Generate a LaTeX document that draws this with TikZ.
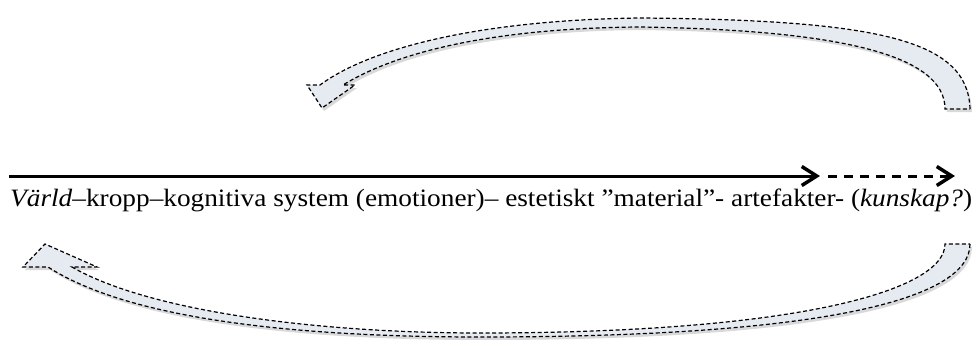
\documentclass[tikz,border=0pt]{standalone}
\usepackage{fontspec}
\setmainfont{Liberation Serif}
\usetikzlibrary{arrows.meta, shadows}
\definecolor{bandfill}{HTML}{E6EAF1}
\tikzset{
  band/.style={fill=bandfill, draw=black, line width=1.2pt,
    dash pattern=on 4pt off 2.5pt,
    drop shadow={shadow xshift=2pt, shadow yshift=-3pt, opacity=0.15, fill=black}},
  flow/.style={line width=3pt, -{Straight Barb[length=15pt,width=19pt,line width=3.5pt]}},
}
\begin{document}
\begin{tikzpicture}[x=1pt, y=-1pt]
      \useasboundingbox (0,0) rectangle (978,340);
      % 1. the points of the main arrow
      \coordinate (start) at (9,176);
      \coordinate (mid) at (820,176);
      \coordinate (gap) at (828,176);
      \coordinate (end) at (955,176);

      % 2. solid part, then dashed part
      \draw[flow] (start) -- (mid);
      \draw[flow, dash pattern=on 9pt off 7pt] (gap) -- (end);

      % 3. the chain of words under the arrow
      \node[anchor=base west, inner sep=0pt, font=\fontsize{25}{30}\selectfont] (chain) at (10,206)
        {\resizebox{962pt}{\height}{\textit{Värld}–kropp–kognitiva system (emotioner)– estetiskt ”material”- artefakter- (\textit{kunskap?})}};

      % 4. upper curved arrow, back to the left
      \filldraw[band] (970,109) .. controls (968,40) and (880,20) .. (640,18)
        .. controls (480,20) and (370,48) .. (320,85)
        -- (307,85) -- (322,108) -- (355,85) -- (343,85)
        .. controls (400,50) and (500,28) .. (640,27)
        .. controls (840,30) and (945,55) .. (945,109) -- cycle;

      % 5. lower curved arrow, back to the start
      \filldraw[band] (970,244) .. controls (970,300) and (820,337) .. (480,337)
        .. controls (300,337) and (130,320) .. (48,267)
        -- (23,267) -- (45,244) -- (97,267) -- (72,267)
        .. controls (150,312) and (320,333) .. (480,333)
        .. controls (800,333) and (945,290) .. (945,244) -- cycle;
    \end{tikzpicture}
\end{document}
